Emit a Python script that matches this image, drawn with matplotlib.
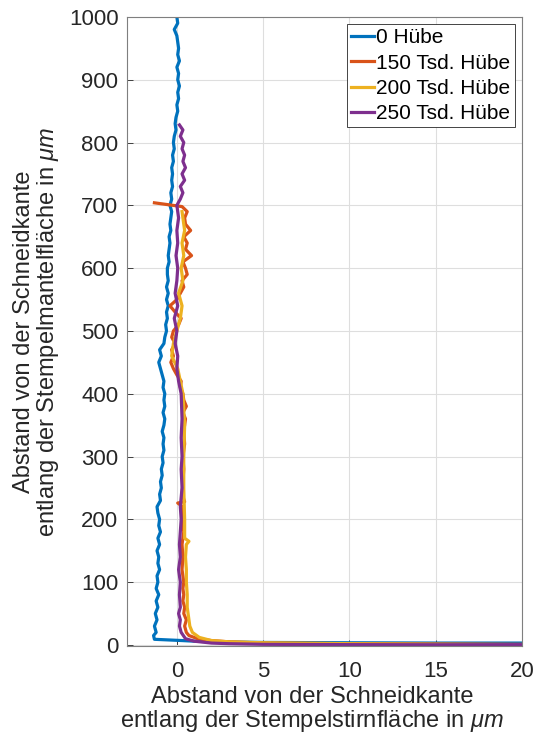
import matplotlib
matplotlib.use("Agg")
import matplotlib.pyplot as plt

plt.rcParams['font.family'] = ['Liberation Sans', 'DejaVu Sans']
plt.rcParams['mathtext.fontset'] = 'custom'
plt.rcParams['mathtext.it'] = 'Liberation Sans:italic'
plt.rcParams['mathtext.rm'] = 'Liberation Sans'

labels = ['0 Hübe', '150 Tsd. Hübe', '200 Tsd. Hübe', '250 Tsd. Hübe']
colors = ['#0072BD', '#D95319', '#EDB120', '#7E2F8E']

# 0 Huebe
blue_x = [20.0, 15.0, 10.0, 5.0, 2.0, 1.0, 0.3, -0.5, -1.3,
          -1.35, -1.2, -1.3, -1.15, -1.25, -1.1, -1.2, -1.05, -1.2, -1.1,
          -1.15, -1.0, -1.1, -1.05, -1.15, -1.0, -1.1, -0.95, -1.05, -1.0,
          -1.1, -1.15, -0.95, -1.0, -0.9, -0.95, -0.85, -0.9, -0.8, -0.85,
          -0.75, -0.8, -0.75, -0.85, -0.75, -0.7, -0.8, -0.7, -0.75, -0.7,
          -0.8, -0.75, -0.85, -0.95, -1.05, -0.9, -1.0, -0.75, -0.7, -0.6,
          -0.65, -0.55, -0.6, -0.5, -0.6, -0.5, -0.6, -0.5, -0.55, -0.55,
          -0.45, -0.5, -0.45, -0.4, -0.45, -0.35, -0.4, -0.35, -0.3, -0.4,
          -0.3, -0.35, -0.25, -0.3, -0.25, -0.3, -0.2, -0.25, -0.15, -0.2,
          -0.15, -0.05, -0.1, -0.05, 0.05, 0.0, 0.1, 0.05, 0.15, 0.05,
          0.1, 0.0, 0.15, 0.05, 0.1, 0.05, 0.0, -0.15, 0.05, 0.0]
blue_y = [3, 3, 3.5, 4, 5, 6, 7, 8, 9,
          15, 20, 30, 40, 50, 60, 70, 80, 90, 100,
          110, 120, 130, 140, 150, 160, 170, 180, 190, 200,
          210, 220, 230, 240, 250, 260, 270, 280, 290, 300,
          310, 320, 330, 340, 350, 360, 370, 380, 390, 400,
          410, 420, 430, 440, 450, 460, 470, 480, 490, 500,
          510, 520, 530, 540, 550, 560, 570, 580, 590, 600,
          610, 620, 630, 640, 650, 660, 670, 680, 690, 700,
          710, 720, 730, 740, 750, 760, 770, 780, 790, 800,
          810, 820, 830, 840, 850, 860, 870, 880, 890, 900,
          910, 920, 930, 940, 950, 960, 970, 980, 990, 1000]

# 150 Tsd. Huebe
orange_x = [20.0, 15.0, 10.0, 5.0, 3.0, 2.0, 1.2, 0.7,
            0.55, 0.45, 0.55, 0.4, 0.45, 0.35, 0.4, 0.35, 0.4, 0.3,
            0.35, 0.3, 0.4, 0.3, 0.35, 0.05, 0.45, 0.3, 0.35, 0.4,
            0.35, 0.45, 0.4, 0.5, 0.35, 0.55, 0.4, 0.35, 0.2, 0.25,
            0.0, -0.2, -0.35, -0.2, -0.3, -0.1, -0.3, -0.2, 0.1, 0.25,
            -0.1, -0.4, 0.0, 0.2, 0.4, 0.3, 0.6, 0.5, 0.35, 0.85,
            0.5, 0.6, 0.4, 0.8, 0.5, 0.45, 0.6, 0.3, -1.3]
orange_y = [1, 1.5, 2, 3, 5, 7, 10, 15,
            20, 30, 40, 50, 60, 70, 80, 90, 100, 120,
            140, 160, 180, 200, 220, 226, 228, 240, 260, 280,
            300, 320, 340, 360, 370, 380, 390, 400, 410, 420,
            430, 440, 450, 460, 470, 480, 490, 500, 510, 520,
            530, 540, 550, 560, 570, 580, 590, 600, 610, 620,
            630, 640, 650, 660, 670, 680, 690, 698, 704]

# 200 Tsd. Huebe
yellow_x = [20.0, 15.0, 10.0, 5.0, 3.0, 2.0, 1.3, 0.9,
            0.75, 0.7, 0.65, 0.6, 0.6, 0.55, 0.55, 0.5, 0.55, 0.7,
            0.45, 0.45, 0.4, 0.4, 0.45, 0.35, 0.2, 0.05, -0.3, -0.2,
            0.0, 0.2, 0.3, 0.1, 0.35, 0.25, 0.4, 0.3, 0.45, 0.35, 0.3]
yellow_y = [0.5, 1, 2, 3.5, 5, 7, 12, 20,
            30, 40, 50, 60, 80, 100, 120, 140, 160, 165,
            170, 200, 250, 300, 350, 400, 420, 440, 460, 480,
            500, 520, 540, 560, 580, 600, 620, 640, 660, 680, 690]

# 250 Tsd. Huebe
purple_x = [20.0, 15.0, 10.0, 5.0, 3.0, 2.0, 1.0, 0.5,
            0.25, 0.15, 0.2, 0.1, 0.2, 0.15, 0.2, 0.1, 0.2, 0.15,
            0.2, 0.25, 0.2, 0.3, 0.25, 0.3, 0.25, 0.3, 0.25, 0.1,
            0.0, 0.05, -0.1, 0.0, -0.15, 0.05, -0.1, 0.0, 0.05, -0.05,
            0.05, 0.0, 0.1, 0.0, 0.2, 0.35, 0.2, 0.45, 0.3, 0.5,
            0.35, 0.45, 0.3, 0.4, 0.2, 0.35, 0.15]
purple_y = [0.5, 0.3, 0.5, 1, 2, 3, 6, 10,
            20, 30, 40, 50, 60, 80, 100, 120, 140, 160,
            180, 200, 220, 250, 280, 300, 330, 360, 400, 420,
            440, 460, 480, 500, 520, 540, 560, 580, 600, 620,
            640, 660, 680, 700, 710, 720, 730, 740, 750, 760,
            770, 780, 790, 800, 810, 820, 828]

series_x = [blue_x, orange_x, yellow_x, purple_x]
series_y = [blue_y, orange_y, yellow_y, purple_y]

fig = plt.figure(figsize=(5.42, 7.36), dpi=100)
ax = fig.add_axes([0.234, 0.122, 0.729, 0.855])

for xs, ys, c, lab in zip(series_x, series_y, colors, labels):
    ax.plot(xs, ys, color=c, linewidth=2.3, label=lab)

ax.set_xlim(-2.9, 20)
ax.set_ylim(-2, 1000)
ax.set_xticks([0, 5, 10, 15, 20])
ax.set_yticks(range(0, 1001, 100))
ax.grid(True, color='#dedede', linewidth=0.8)
ax.set_axisbelow(True)
ax.tick_params(direction='in', labelsize=16, colors='#262626', length=4, width=0.6)
ax.tick_params(axis='x', pad=11)
ax.tick_params(axis='y', pad=6)
for sp in ax.spines.values():
    sp.set_color('#7f7f7f')
    sp.set_linewidth(0.8)

ax.set_xlabel('Abstand von der Schneidkante\nentlang der Stempelstirnfläche in $\\mu m$',
              fontsize=17, color='#262626', linespacing=1.0)
ax.xaxis.set_label_coords(0.47, -0.064, transform=ax.transAxes)
ax.xaxis.label.set_va('top')
ax.set_ylabel('Abstand von der Schneidkante\nentlang der Stempelmantelfläche in $\\mu m$',
              fontsize=17, color='#262626', labelpad=6, linespacing=1.0)

leg = ax.legend(loc='upper right', fontsize=15, handlelength=1.1, handletextpad=0.1,
                borderpad=0.2, labelspacing=0.3, fancybox=False, framealpha=1,
                borderaxespad=0.35)
leg.get_frame().set_edgecolor('#262626')
leg.get_frame().set_linewidth(0.6)

fig.savefig('out.png', dpi=100)
